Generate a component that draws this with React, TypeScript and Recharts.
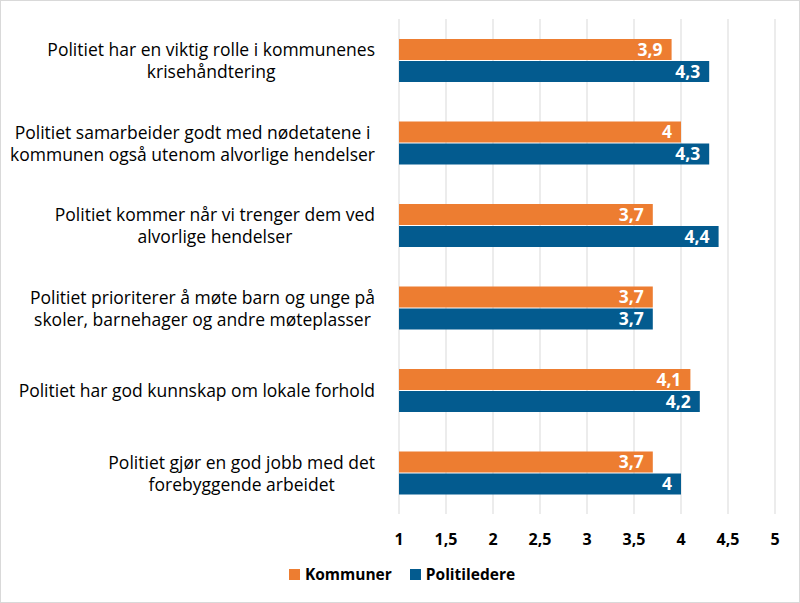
import React from "react";
import {
  Bar,
  BarChart,
  CartesianGrid,
  LabelList,
  Legend,
  XAxis,
  YAxis,
} from "recharts";

const categories = [
  "Politiet har en viktig rolle i kommunenes\nkrisehåndtering",
  "Politiet samarbeider godt med nødetatene i\nkommunen også utenom alvorlige hendelser",
  "Politiet kommer når vi trenger dem ved\nalvorlige hendelser",
  "Politiet prioriterer å møte barn og unge på\nskoler, barnehager og andre møteplasser",
  "Politiet har god kunnskap om lokale forhold",
  "Politiet gjør en god jobb med det\nforebyggende arbeidet",
];
const kommuner = [3.9, 4, 3.7, 3.7, 4.1, 3.7];
const politiledere = [4.3, 4.3, 4.4, 3.7, 4.2, 4];
const xTicks = [1, 1.5, 2, 2.5, 3, 3.5, 4, 4.5, 5];

const ORANGE = "#ED7D31";
const BLUE = "#035B8F";
const FONT = "'Open Sans', sans-serif";
const LABEL_SIZE = 17.5;

const data = categories.map((name, i) => ({
  name,
  kommuner: kommuner[i],
  politiledere: politiledere[i],
}));

const fmt = (v: number) => String(v).replace(".", ",");

let ctx: CanvasRenderingContext2D | null = null;
function measure(text: string) {
  if (!ctx) ctx = document.createElement("canvas").getContext("2d");
  if (!ctx) return text.length * LABEL_SIZE * 0.52;
  ctx.font = `${LABEL_SIZE}px 'Open Sans'`;
  return ctx.measureText(text).width;
}

function CategoryTick(props: any) {
  const { x, y, payload } = props;
  const lines: string[] = String(payload.value).split("\n");
  const maxW = Math.max(...lines.map(measure));
  const cx = x - maxW / 2;
  const lh = 22;
  const startY = y - ((lines.length - 1) * lh) / 2;
  return (
    <text
      x={cx}
      y={startY}
      textAnchor="middle"
      dominantBaseline="central"
      fontFamily={FONT}
      fontSize={LABEL_SIZE}
      fill="#000"
    >
      {lines.map((l, i) => (
        <tspan key={i} x={cx} y={startY + i * lh} dominantBaseline="central">
          {l}
        </tspan>
      ))}
    </text>
  );
}

function LegendContent() {
  const items = [
    { label: "Kommuner", color: ORANGE },
    { label: "Politiledere", color: BLUE },
  ];
  return (
    <div
      style={{
        display: "flex",
        justifyContent: "center",
        alignItems: "center",
        gap: 18,
        height: 40,
        fontFamily: FONT,
        fontWeight: 700,
        fontSize: 15.5,
        color: "#000",
        paddingLeft: 28,
      }}
    >
      {items.map((it) => (
        <div key={it.label} style={{ display: "flex", alignItems: "center" }}>
          <span
            style={{
              width: 11,
              height: 11,
              background: it.color,
              display: "inline-block",
              marginRight: 5,
            }}
          />
          {it.label}
        </div>
      ))}
    </div>
  );
}

export default function App() {
  return (
    <div
      style={{
        position: "absolute",
        left: 0,
        top: 0,
        width: 800,
        height: 603,
        boxSizing: "border-box",
        border: "1px solid #d9d9d9",
        background: "#fff",
      }}
    >
      <BarChart
        width={798}
        height={601}
        data={data}
        layout="vertical"
        margin={{ top: 18, right: 24, bottom: 8, left: 0 }}
        barSize={21}
        barGap={1}
      >
        <CartesianGrid horizontal={false} stroke="#d9d9d9" />
        <XAxis
          type="number"
          domain={[1, 5]}
          ticks={xTicks}
          tickFormatter={fmt}
          axisLine={false}
          tickLine={false}
          height={40}
          tick={{ fill: "#000", fontWeight: 700, fontSize: 16, fontFamily: FONT }}
          tickMargin={14}
        />
        <YAxis
          type="category"
          dataKey="name"
          width={398}
          axisLine={false}
          tickLine={false}
          tick={<CategoryTick />}
          tickMargin={18}
        />
        <Legend verticalAlign="bottom" content={<LegendContent />} height={40} />
        <Bar dataKey="kommuner" name="Kommuner" fill={ORANGE} isAnimationActive={false}>
          <LabelList
            dataKey="kommuner"
            position="insideRight"
            formatter={(v: any) => fmt(v)}
            fill="#fff"
            fontWeight={700}
            fontSize={17.5}
            fontFamily={FONT}
            offset={9}
          />
        </Bar>
        <Bar dataKey="politiledere" name="Politiledere" fill={BLUE} isAnimationActive={false}>
          <LabelList
            dataKey="politiledere"
            position="insideRight"
            formatter={(v: any) => fmt(v)}
            fill="#fff"
            fontWeight={700}
            fontSize={17.5}
            fontFamily={FONT}
            offset={9}
          />
        </Bar>
      </BarChart>
    </div>
  );
}
